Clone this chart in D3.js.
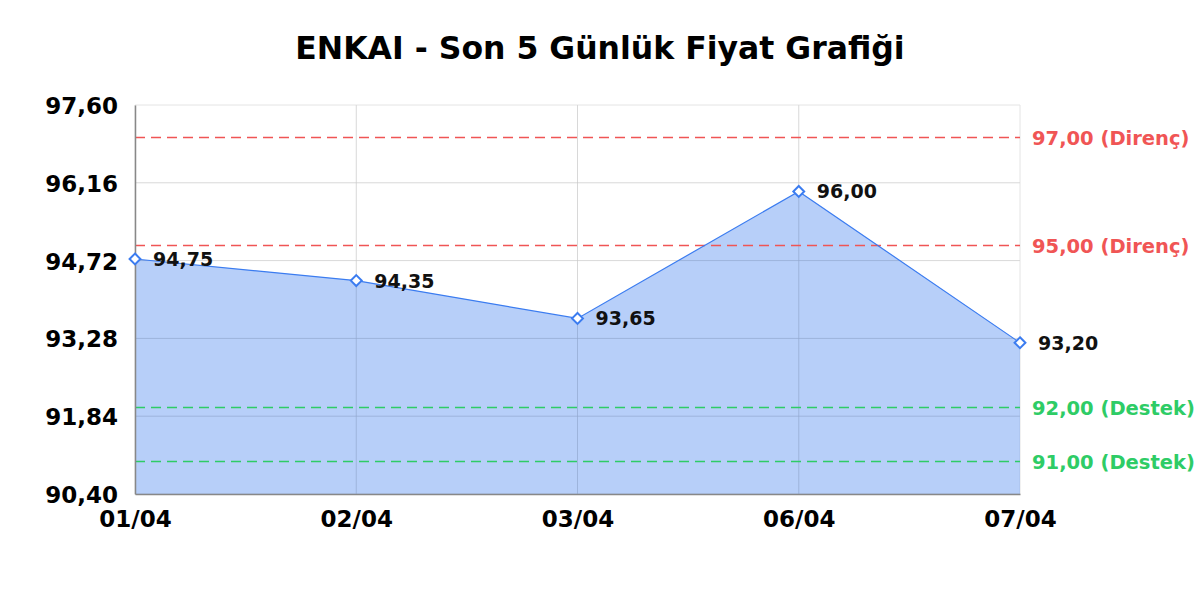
<!DOCTYPE html>
<html><head><meta charset="utf-8">
<script src="https://cdn.jsdelivr.net/npm/d3@7"></script>
<style>body{margin:0;background:#fff}svg{display:block}text{font-family:"DejaVu Sans",sans-serif}</style>
</head><body><svg id="c" width="1200" height="600"></svg>
<script>
const title = "ENKAI - Son 5 Günlük Fiyat Grafiği";
const categories = ["01/04","02/04","03/04","06/04","07/04"];
const prices = [94.75, 94.35, 93.65, 96.00, 93.20];
const yTicks = [90.40, 91.84, 93.28, 94.72, 96.16, 97.60];
const resistance = [97.00, 95.00];
const support = [92.00, 91.00];

const fmt = v => v.toFixed(2).replace(".", ",");
const svg = d3.select("#c");
const L = 135, R = 1020, T = 105, B = 494;
const x = d3.scalePoint().domain(categories).range([L, R]);
const y = d3.scaleLinear().domain([90.40, 97.60]).range([B, T]);

svg.append("text").attr("x", 600).attr("y", 59).attr("text-anchor", "middle")
  .attr("font-size", 31.5).attr("font-weight", "bold").attr("fill", "#000").text(title);

// grid
svg.append("g").selectAll("line").data(yTicks).join("line")
  .attr("x1", L).attr("x2", R).attr("y1", d => y(d)).attr("y2", d => y(d))
  .attr("stroke", "#e4e4e4").attr("stroke-width", 1);
svg.append("g").selectAll("line").data(categories).join("line")
  .attr("x1", d => x(d)).attr("x2", d => x(d)).attr("y1", T).attr("y2", B)
  .attr("stroke", "#e4e4e4").attr("stroke-width", 1);

// area
const data = categories.map((c, i) => ({c, v: prices[i]}));
svg.append("path").datum(data)
  .attr("d", d3.area().x(d => x(d.c)).y0(B).y1(d => y(d.v)))
  .attr("fill", "#3b7cf0").attr("fill-opacity", 0.37);

// grid on top of area (faint)
svg.append("g").selectAll("line").data(yTicks.slice(1, -1)).join("line")
  .attr("x1", L).attr("x2", R).attr("y1", d => y(d)).attr("y2", d => y(d))
  .attr("stroke", "#000").attr("stroke-opacity", 0.05);
svg.append("g").selectAll("line").data(categories.slice(1, -1)).join("line")
  .attr("x1", d => x(d)).attr("x2", d => x(d)).attr("y1", T).attr("y2", B)
  .attr("stroke", "#000").attr("stroke-opacity", 0.05);

// ref lines
const refs = resistance.map(v => ({v, lab: fmt(v) + " (Direnç)", col: "#f05555"}))
  .concat(support.map(v => ({v, lab: fmt(v) + " (Destek)", col: "#2ecc66"})));
const rg = svg.append("g");
rg.selectAll("line").data(refs).join("line")
  .attr("x1", L).attr("x2", R).attr("y1", d => y(d.v)).attr("y2", d => y(d.v))
  .attr("stroke", d => d.col).attr("stroke-width", 1.5).attr("stroke-dasharray", "10,6");
rg.selectAll("text").data(refs).join("text")
  .attr("x", 1032).attr("y", d => y(d.v) + 7.5).attr("font-size", 19.5).attr("font-weight", "bold")
  .attr("fill", d => d.col).text(d => d.lab);

// line
svg.append("path").datum(data)
  .attr("d", d3.line().x(d => x(d.c)).y(d => y(d.v)))
  .attr("fill", "none").attr("stroke", "#3b7cf0").attr("stroke-width", 1.2);

// axes
const yAxis = d3.axisLeft(y).tickValues(yTicks).tickFormat(fmt).tickSize(0).tickPadding(17);
const ga = svg.append("g").attr("transform", `translate(${L},0)`).call(yAxis);
ga.select(".domain").attr("stroke", "#888").attr("stroke-width", 1.5);
ga.selectAll("text").attr("font-size", 23).attr("font-weight", "bold").attr("fill", "#000")
  .attr("font-family", "DejaVu Sans").attr("dy", "0.37em");
const xAxis = d3.axisBottom(x).tickSize(0).tickPadding(16.5);
const gx = svg.append("g").attr("transform", `translate(0,${B})`).call(xAxis);
gx.select(".domain").attr("stroke", "#888").attr("stroke-width", 1.5);
gx.selectAll("text").attr("font-size", 23).attr("font-weight", "bold").attr("fill", "#000")
  .attr("font-family", "DejaVu Sans");

// markers
const sym = d3.symbol().type(d3.symbolDiamond2).size(75);
svg.append("g").selectAll("path").data(data).join("path")
  .attr("d", sym).attr("transform", d => `translate(${x(d.c)},${y(d.v)})`)
  .attr("fill", "#fff").attr("stroke", "#3b7cf0").attr("stroke-width", 2);

// labels
svg.append("g").selectAll("text").data(data).join("text")
  .attr("x", d => x(d.c) + 18)
  .attr("y", d => y(d.v) + 7).attr("font-size", 19).attr("font-weight", "bold").attr("fill", "#111")
  .text(d => fmt(d.v));
</script></body></html>
